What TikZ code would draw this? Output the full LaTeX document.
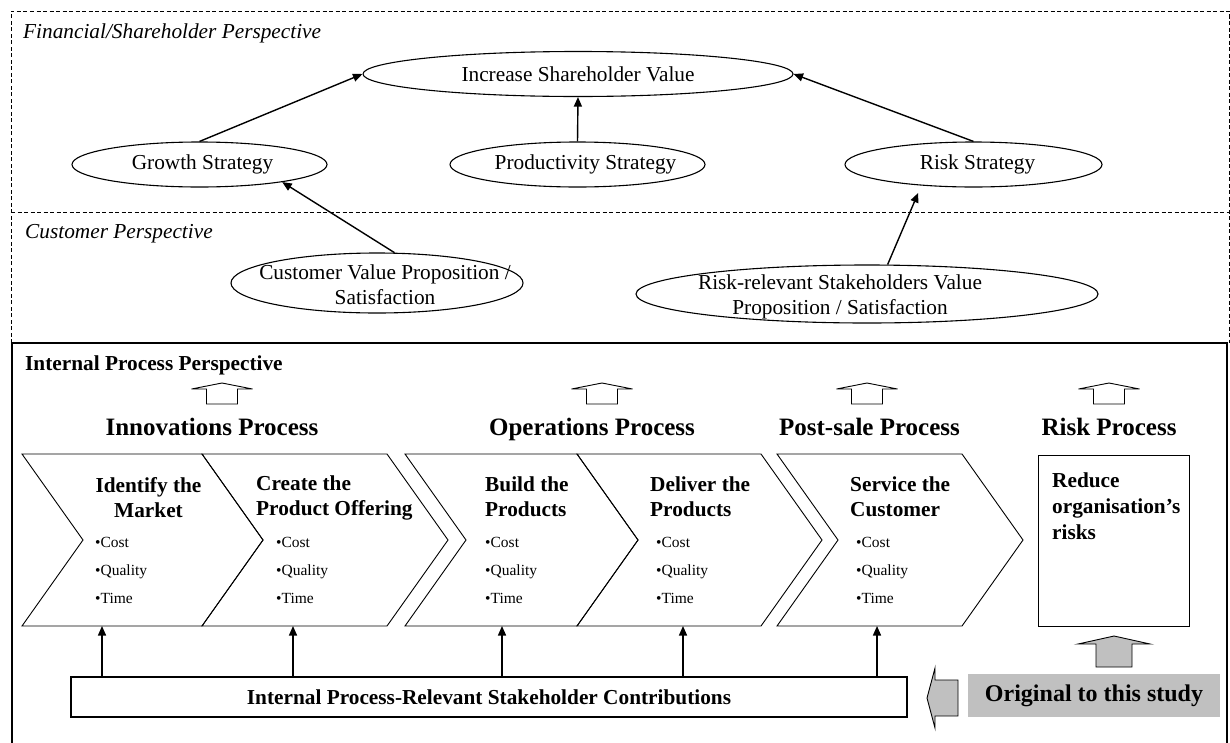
\documentclass[tikz,border=0pt]{standalone}
\usepackage{fontspec}
\setmainfont{Liberation Serif}
\usetikzlibrary{arrows.meta,shapes.geometric,calc}

\begin{document}
\begin{tikzpicture}[x=1pt,y=-1pt,
  every node/.style={inner sep=0pt},
  regular/.style={font=\fontsize{21.3}{25}\selectfont},
  sectionlbl/.style={font=\fontsize{21.3}{25}\selectfont\itshape, anchor=base west},
  boldlbl/.style={font=\fontsize{21.3}{25}\selectfont\bfseries},
  proctitle/.style={font=\fontsize{25}{30}\selectfont\bfseries, anchor=base},
  bullets/.style={font=\fontsize{15.5}{28}\selectfont, align=left, anchor=base west},
  goal/.style={draw, ellipse, line width=1.1pt},
  link/.style={line width=1.4pt, -{Triangle[length=9.5pt,width=8pt]}},
  chev/.style={draw, line width=0.9pt},
  dashedframe/.style={line width=0.9pt, dash pattern=on 4pt off 2.5pt},
  blockarrow/.style={draw, line width=0.9pt},
  whiteup/.pic={\draw[blockarrow, fill=white] (-15.5,0) -- (-15.5,-15) -- (-30.5,-15) -- (0,-21) -- (30.5,-15) -- (15.5,-15) -- (15.5,0) -- cycle;},
  grayup/.pic={\draw[blockarrow, fill=boxgray] (-18,0) -- (-18,-23) -- (-36,-23) -- (0,-31) -- (36,-23) -- (18,-23) -- (18,0) -- cycle;},
]
\definecolor{boxgray}{RGB}{192,192,192}
\useasboundingbox (0,0) rectangle (1230,742);

% ---------- perspective frames ----------
\draw[dashedframe] (11,343) -- (11,11) -- (1229,11) -- (1229,343);
\draw[dashedframe] (11,212) -- (1229,212);
\draw[line width=2pt] (12,760) -- (12,343) -- (1227,343) -- (1227,760);

\node[sectionlbl] (finlbl) at (23,38) {Financial/Shareholder Perspective};
\node[sectionlbl] (custlbl) at (25,238) {Customer Perspective};
\node[boldlbl, anchor=base west] (intlbl) at (25,370) {Internal Process Perspective};

% ---------- financial goals ----------
\node[goal, minimum width=430pt, minimum height=45pt,
      label={[regular]center:Increase Shareholder Value}] (isv) at (578,74) {};
\node[goal, minimum width=255pt, minimum height=45pt,
      label={[regular, xshift=3pt]center:Growth Strategy}] (grow) at (199.5,164.5) {};
\node[goal, minimum width=255pt, minimum height=45pt,
      label={[regular, xshift=8pt]center:Productivity Strategy}] (prod) at (577.5,164.5) {};
\node[goal, minimum width=257pt, minimum height=45pt,
      label={[regular, xshift=4pt]center:Risk Strategy}] (risk) at (973.5,164.5) {};

% ---------- customer goals ----------
\node[goal, minimum width=292pt, minimum height=60pt,
      label={[regular, align=center, xshift=8pt, yshift=-2pt]center:{Customer Value Proposition /\\Satisfaction}}] (cvp) at (377,283) {};
\node[goal, minimum width=462pt, minimum height=58pt,
      label={[regular, align=center, xshift=-27pt, yshift=-3pt]center:{Risk-relevant Stakeholders Value\\Proposition / Satisfaction}}] (rsv) at (867,294) {};

\draw[link] (grow.north) -- (isv.west);
\draw[link] (prod.north) -- (isv.south);
\draw[link] (risk.north) -- (isv.east);
\draw[link] (cvp.60) -- (grow.-12);
\draw[link, shorten >=8pt] (rsv.55) -- (risk.-158);

% ---------- internal process ----------
\pic at (222,404) {whiteup};
\pic at (602,404) {whiteup};
\pic at (867,404) {whiteup};
\pic at (1109,404) {whiteup};

\node[proctitle] (innov) at (212,435) {Innovations Process};
\node[proctitle] (oper) at (592,435) {Operations Process};
\node[proctitle] (post) at (869.5,435) {Post-sale Process};
\node[proctitle] (riskp) at (1109,435) {Risk Process};

% chevrons: left edge, right edge
\foreach \l/\r in {22/202, 202/387, 405/577, 577/761, 777/962}
  \draw[chev] (\l,454) -- (\r,454) -- (\r+61,540) -- (\r,626) -- (\l,626) -- (\l+61,540) -- cycle;

% multi-line texts are anchored on the baseline of their last line
\node[boldlbl, align=center, anchor=base] (s1) at (148.5,517) {Identify the\\Market};
\node[boldlbl, align=left, anchor=base west] (s2) at (256,515) {Create the\\Product Offering};
\node[boldlbl, align=left, anchor=base west] (s3) at (485,516) {Build the\\Products};
\node[boldlbl, align=left, anchor=base west] (s4) at (650,516) {Deliver the\\Products};
\node[boldlbl, align=left, anchor=base west] (s5) at (850,516) {Service the\\Customer};

\node[bullets] (b1) at (95,603) {•Cost\\•Quality\\•Time};
\node[bullets] (b2) at (276,603) {•Cost\\•Quality\\•Time};
\node[bullets] (b3) at (485,603) {•Cost\\•Quality\\•Time};
\node[bullets] (b4) at (656,603) {•Cost\\•Quality\\•Time};
\node[bullets] (b5) at (856,603) {•Cost\\•Quality\\•Time};

\coordinate (c1) at (102,626);
\coordinate (c2) at (293,626);
\coordinate (c3) at (502,626);
\coordinate (c4) at (683,626);
\coordinate (c5) at (877,626);

% risk process box
\node[draw, line width=0.9pt, minimum width=151pt, minimum height=171pt] (riskbox) at (1113.5,540.5) {};
\node[align=left, anchor=base west, font=\fontsize{21.3}{26}\selectfont\bfseries] (riskt) at (1052,539) {Reduce\\organisation’s\\risks};

% stakeholder contributions
\node[draw, line width=1.1pt, boldlbl, minimum width=836pt, minimum height=40pt] (stake) at (489,697) {Internal Process-Relevant Stakeholder Contributions};
\foreach \c in {c1,c2,c3,c4,c5}
  \draw[link] (stake.north -| \c) -- (\c);

% original contribution
\node[fill=boxgray, minimum width=252pt, minimum height=43pt,
      font=\fontsize{24}{28}\selectfont\bfseries] (orig) at (1094,695.5) {Original to this study};
\pic at (1114,667) {grayup};
\draw[blockarrow, fill=boxgray] (958,680) -- (935,680) -- (935,668) -- (927,698) -- (935,728) -- (935,716) -- (958,716) -- cycle;

\end{tikzpicture}
\end{document}
